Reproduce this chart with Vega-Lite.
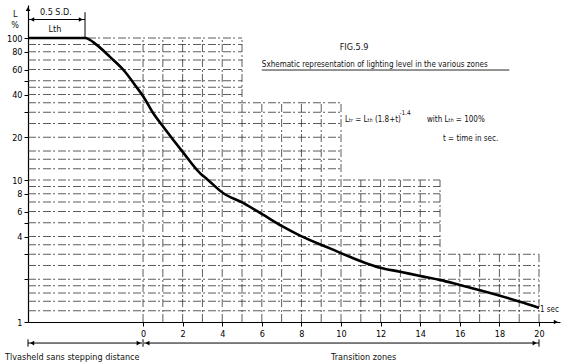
{
  "$schema": "https://vega.github.io/schema/vega-lite/v6.json",
  "width": 532,
  "height": 317,
  "autosize": {"type": "none"},
  "padding": {"left": 28, "top": 5, "right": 4, "bottom": 42},
  "background": "white",
  "config": {
    "view": {"stroke": null},
    "font": "DejaVu Sans Condensed",
    "text": {"font": "DejaVu Sans Condensed", "color": "#111"}
  },
  "layer": [
    {
      "data": {"values": [
        {"L": 100, "t0": -5.81, "tmax": 5}, {"L": 90, "t0": -5.81, "tmax": 5}, {"L": 80, "t0": -5.81, "tmax": 5}, {"L": 70, "t0": -5.81, "tmax": 5},
        {"L": 60, "t0": -5.81, "tmax": 5}, {"L": 50, "t0": -5.81, "tmax": 5}, {"L": 45, "t0": -5.81, "tmax": 5}, {"L": 40, "t0": -5.81, "tmax": 5},
        {"L": 35, "t0": -5.81, "tmax": 10}, {"L": 30, "t0": -5.81, "tmax": 10}, {"L": 25, "t0": -5.81, "tmax": 10}, {"L": 20, "t0": -5.81, "tmax": 10},
        {"L": 16, "t0": -5.81, "tmax": 10}, {"L": 14, "t0": -5.81, "tmax": 10}, {"L": 12, "t0": -5.81, "tmax": 10},
        {"L": 10, "t0": -5.81, "tmax": 15}, {"L": 9, "t0": -5.81, "tmax": 15}, {"L": 8, "t0": -5.81, "tmax": 15}, {"L": 7, "t0": -5.81, "tmax": 15},
        {"L": 6, "t0": -5.81, "tmax": 15}, {"L": 5, "t0": -5.81, "tmax": 15}, {"L": 4, "t0": -5.81, "tmax": 15}, {"L": 3.5, "t0": -5.81, "tmax": 15},
        {"L": 3, "t0": -5.81, "tmax": 20}, {"L": 2.5, "t0": -5.81, "tmax": 20}, {"L": 2, "t0": -5.81, "tmax": 20}, {"L": 1.8, "t0": -5.81, "tmax": 20},
        {"L": 1.6, "t0": -5.81, "tmax": 20}, {"L": 1.4, "t0": -5.81, "tmax": 20}, {"L": 1.2, "t0": -5.81, "tmax": 20}
      ]},
      "mark": {"type": "rule", "stroke": "#333", "strokeWidth": 0.8, "strokeDash": [8, 2, 2, 3]},
      "encoding": {
        "x": {"field": "t0", "type": "quantitative", "title": null,
              "scale": {"domain": [-5.81, 21.06], "nice": false, "zero": false}},
        "x2": {"field": "tmax"},
        "y": {"field": "L", "type": "quantitative", "title": null,
              "scale": {"type": "log", "domain": [1, 170.8], "nice": false}}
      }
    },
    {
      "data": {"values": [
        {"t": 0, "L0": 1, "Lmax": 100}, {"t": 1, "L0": 1, "Lmax": 100}, {"t": 2, "L0": 1, "Lmax": 100}, {"t": 3, "L0": 1, "Lmax": 100},
        {"t": 4, "L0": 1, "Lmax": 100}, {"t": 5, "L0": 1, "Lmax": 100},
        {"t": 6, "L0": 1, "Lmax": 35}, {"t": 7, "L0": 1, "Lmax": 35}, {"t": 8, "L0": 1, "Lmax": 35}, {"t": 9, "L0": 1, "Lmax": 35}, {"t": 10, "L0": 1, "Lmax": 35},
        {"t": 11, "L0": 1, "Lmax": 10}, {"t": 12, "L0": 1, "Lmax": 10}, {"t": 13, "L0": 1, "Lmax": 10}, {"t": 14, "L0": 1, "Lmax": 10}, {"t": 15, "L0": 1, "Lmax": 10},
        {"t": 16, "L0": 1, "Lmax": 3}, {"t": 17, "L0": 1, "Lmax": 3}, {"t": 18, "L0": 1, "Lmax": 3}, {"t": 19, "L0": 1, "Lmax": 3}, {"t": 20, "L0": 1, "Lmax": 3}
      ]},
      "mark": {"type": "rule", "stroke": "#333", "strokeWidth": 0.8, "strokeDash": [8, 2, 2, 3]},
      "encoding": {
        "x": {"field": "t", "type": "quantitative", "title": null},
        "y": {"field": "L0", "type": "quantitative", "title": null},
        "y2": {"field": "Lmax"}
      }
    },
    {
      "data": {"values": [
        {"t": -5.81, "L": 100}, {"t": -2.93, "L": 100}, {"t": -2.34, "L": 89.5}, {"t": -1.67, "L": 73.6},
        {"t": -0.91, "L": 57.9}, {"t": -0.4, "L": 46.5}, {"t": 0.02, "L": 38.6}, {"t": 0.51, "L": 29.6},
        {"t": 1.02, "L": 23.7}, {"t": 2.03, "L": 15.6}, {"t": 2.9, "L": 11.1}, {"t": 3.25, "L": 10.1},
        {"t": 4.04, "L": 8.1}, {"t": 5.05, "L": 6.9}, {"t": 6.06, "L": 5.7}, {"t": 7.0, "L": 4.75},
        {"t": 7.93, "L": 4.06}, {"t": 9.44, "L": 3.3}, {"t": 11.0, "L": 2.68}, {"t": 11.97, "L": 2.41},
        {"t": 12.98, "L": 2.26}, {"t": 14.0, "L": 2.11}, {"t": 15.0, "L": 1.98}, {"t": 16.0, "L": 1.82},
        {"t": 18.03, "L": 1.53}, {"t": 19.04, "L": 1.39}, {"t": 20.0, "L": 1.26}
      ]},
      "mark": {"type": "line", "stroke": "#000", "strokeWidth": 2.6, "interpolate": "monotone"},
      "encoding": {
        "x": {"field": "t", "type": "quantitative", "title": null,
              "axis": {"values": [0,1,2,3,4,5,6,7,8,9,10,11,12,13,14,15,16,17,18,19,20],
                       "labelExpr": "datum.value % 2 === 0 ? datum.label : ''",
                       "grid": false, "domainColor": "#000", "domainWidth": 1.2,
                       "tickColor": "#000", "tickSize": 4, "tickWidth": 1,
                       "labelFontSize": 9, "labelColor": "#000", "labelPadding": 3,
                       "labelFont": "DejaVu Sans Condensed", "labelOverlap": false, "labelFlush": false}},
        "y": {"field": "L", "type": "quantitative", "title": null,
              "axis": {"values": [1,2,3,4,5,6,8,10,20,30,40,50,60,80,100], "format": "d",
                       "labelExpr": "indexof([2,3,5,30,50], datum.value) >= 0 ? '' : datum.label",
                       "grid": false, "domainColor": "#000", "domainWidth": 1.2,
                       "tickColor": "#000", "tickSize": 4, "tickWidth": 1,
                       "labelFontSize": 9, "labelColor": "#000", "labelPadding": 2,
                       "labelFont": "DejaVu Sans Condensed", "labelOverlap": false, "labelFlush": false}}
      }
    },
    {
      "data": {"values": [
        {"t1": -5.81, "t2": -2.93, "L": 135},
        {"t1": -5.81, "t2": -0.05, "L": 0.711},
        {"t1": 0.05, "t2": 20, "L": 0.711}
      ]},
      "mark": {"type": "rule", "stroke": "#000", "strokeWidth": 1},
      "encoding": {
        "x": {"field": "t1", "type": "quantitative", "title": null},
        "x2": {"field": "t2"},
        "y": {"field": "L", "type": "quantitative", "title": null}
      }
    },
    {
      "data": {"values": [
        {"t": -2.93, "L1": 100, "L2": 152},
        {"t": -5.81, "L1": 0.67, "L2": 0.755},
        {"t": 0, "L1": 0.67, "L2": 0.755},
        {"t": 20, "L1": 0.67, "L2": 0.755}
      ]},
      "mark": {"type": "rule", "stroke": "#000", "strokeWidth": 1},
      "encoding": {
        "x": {"field": "t", "type": "quantitative", "title": null},
        "y": {"field": "L1", "type": "quantitative", "title": null},
        "y2": {"field": "L2"}
      }
    },
    {
      "data": {"values": [
        {"t": -5.6, "L": 135, "dir": "left"}, {"t": -3.14, "L": 135, "dir": "right"},
        {"t": -5.6, "L": 0.711, "dir": "left"}, {"t": -0.22, "L": 0.711, "dir": "right"},
        {"t": 0.22, "L": 0.711, "dir": "left"}, {"t": 19.78, "L": 0.711, "dir": "right"},
        {"t": 20.85, "L": 1, "dir": "right"}
      ]},
      "mark": {"type": "point", "filled": true, "color": "#000", "size": 22, "opacity": 1},
      "encoding": {
        "x": {"field": "t", "type": "quantitative", "title": null},
        "y": {"field": "L", "type": "quantitative", "title": null},
        "shape": {"field": "dir", "type": "nominal", "legend": null,
                  "scale": {"domain": ["left", "right"], "range": ["triangle-left", "triangle-right"]}}
      }
    },
    {
      "data": {"values": [{"t": -5.81, "L": 160}]},
      "mark": {"type": "point", "filled": true, "color": "#000", "size": 22, "opacity": 1, "shape": "triangle-up"},
      "encoding": {
        "x": {"field": "t", "type": "quantitative", "title": null},
        "y": {"field": "L", "type": "quantitative", "title": null}
      }
    },
    {
      "data": {"values": [
        {"t": -6.46, "L": 147, "label": "L"},
        {"t": -6.46, "L": 124, "label": "%"},
        {"t": -4.4, "L": 152, "label": "0.5 S.D."},
        {"t": -4.45, "L": 116, "label": "Lth"},
        {"t": 10.66, "L": 86.7, "label": "FIG.5.9"}
      ]},
      "mark": {"type": "text", "fontSize": 9, "align": "center", "baseline": "middle", "color": "#111"},
      "encoding": {
        "x": {"field": "t", "type": "quantitative", "title": null},
        "y": {"field": "L", "type": "quantitative", "title": null},
        "text": {"field": "label"}
      }
    },
    {
      "data": {"values": [
        {"t": 6.0, "L": 64.5, "label": "Sxhematic representation of lighting level in the various zones"},
        {"t": 10.2, "L": 26.5, "label": "Lₜᵣ = Lₜₕ (1.8+t)"},
        {"t": 14.34, "L": 26.5, "label": "with Lₜₕ = 100%"},
        {"t": 15.15, "L": 19.4, "label": "t = time in sec."},
        {"t": 20.05, "L": 1.215, "label": "1 sec"}
      ]},
      "mark": {"type": "text", "fontSize": 8, "align": "left", "baseline": "middle", "color": "#111"},
      "encoding": {
        "x": {"field": "t", "type": "quantitative", "title": null},
        "y": {"field": "L", "type": "quantitative", "title": null},
        "text": {"field": "label"}
      }
    },
    {
      "data": {"values": [
        {"t": 12.95, "L": 29.6, "label": "-1.4"}
      ]},
      "mark": {"type": "text", "fontSize": 6.5, "align": "left", "baseline": "middle", "color": "#111"},
      "encoding": {
        "x": {"field": "t", "type": "quantitative", "title": null},
        "y": {"field": "L", "type": "quantitative", "title": null},
        "text": {"field": "label"}
      }
    },
    {
      "data": {"values": [
        {"t1": 6.0, "t2": 18.5, "L": 59.5}
      ]},
      "mark": {"type": "rule", "stroke": "#111", "strokeWidth": 0.9},
      "encoding": {
        "x": {"field": "t1", "type": "quantitative", "title": null},
        "x2": {"field": "t2"},
        "y": {"field": "L", "type": "quantitative", "title": null}
      }
    },
    {
      "data": {"values": [
        {"t": -6.97, "L": 0.567, "label": "Tlvasheld sans stepping distance"},
        {"t": 9.5, "L": 0.567, "label": "Transition zones"}
      ]},
      "mark": {"type": "text", "fontSize": 9, "align": "left", "baseline": "middle", "color": "#111"},
      "encoding": {
        "x": {"field": "t", "type": "quantitative", "title": null},
        "y": {"field": "L", "type": "quantitative", "title": null},
        "text": {"field": "label"}
      }
    }
  ]
}
